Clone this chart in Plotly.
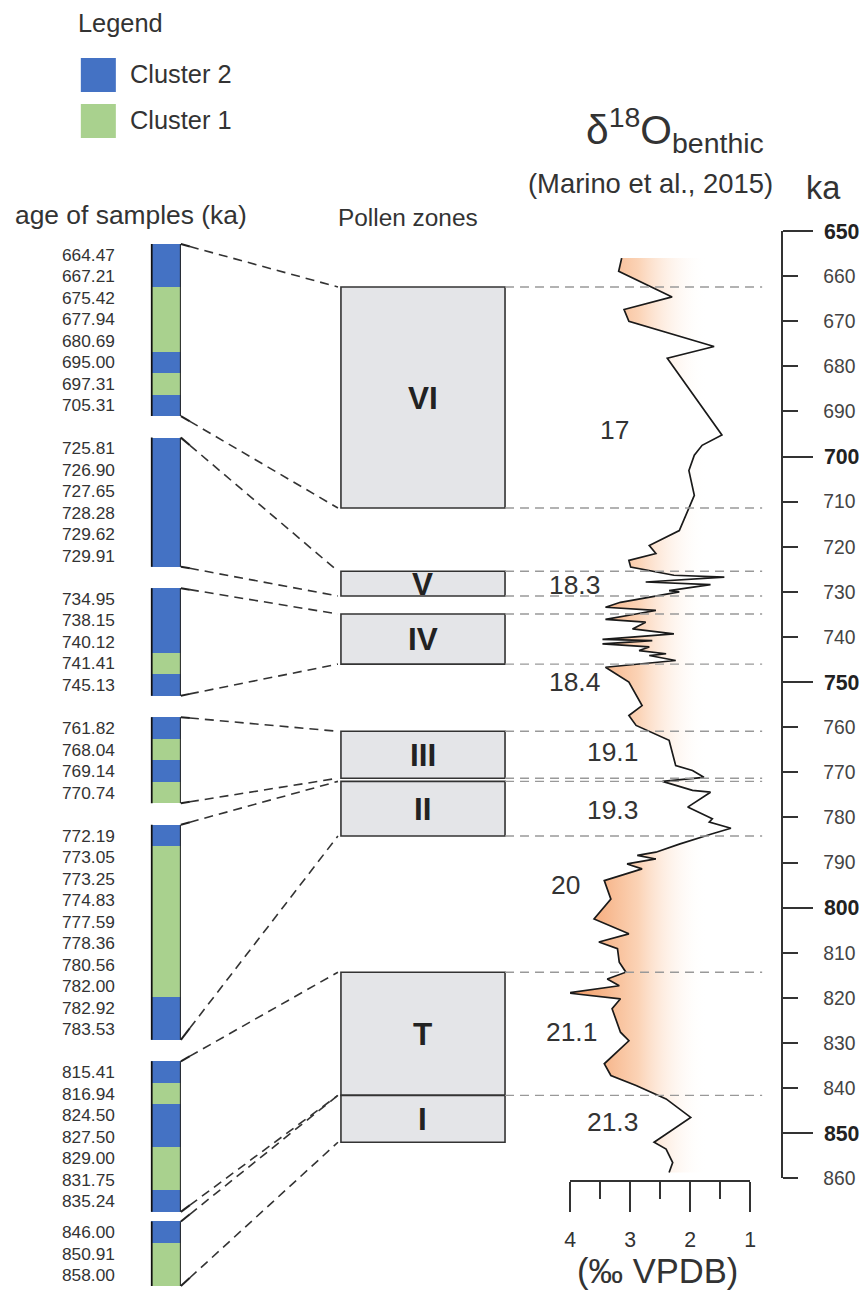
import plotly.graph_objects as go

# ---------------- data ----------------
cluster_names = ["Cluster 2", "Cluster 1"]
cluster_ids = [2, 1]

sample_groups = [
    ["664.47", "667.21", "675.42", "677.94", "680.69", "695.00", "697.31", "705.31"],
    ["725.81", "726.90", "727.65", "728.28", "729.62", "729.91"],
    ["734.95", "738.15", "740.12", "741.41", "745.13"],
    ["761.82", "768.04", "769.14", "770.74"],
    ["772.19", "773.05", "773.25", "774.83", "777.59", "778.36", "780.56", "782.00", "782.92", "783.53"],
    ["815.41", "816.94", "824.50", "827.50", "829.00", "831.75", "835.24"],
    ["846.00", "850.91", "858.00"],
]
sample_clusters = [
    [2, 2, 1, 1, 1, 2, 1, 2],
    [2, 2, 2, 2, 2, 2],
    [2, 2, 2, 1, 2],
    [2, 1, 2, 1],
    [2, 1, 1, 1, 1, 1, 1, 1, 2, 2],
    [2, 1, 2, 2, 1, 1, 2],
    [2, 1, 1],
]

zone_names = ["VI", "V", "IV", "III", "II", "T", "I"]
zone_top = [662.4, 725.4, 734.9, 760.9, 772.0, 814.3, 841.6]
zone_bottom = [711.4, 730.9, 746.0, 771.3, 784.1, 841.6, 852.0]

mis_labels = ["17", "18.3", "18.4", "19.1", "19.3", "20", "21.1", "21.3"]
mis_age = [694.0, 728.5, 750.0, 765.5, 778.4, 795.0, 827.6, 847.6]

age_ka = [656.0, 658.9, 664.6, 667.4, 670.0, 675.6, 678.2, 695.2, 697.5, 699.7,
          703.1, 708.6, 716.4, 719.7, 721.5, 723.0, 724.5, 726.3, 726.7, 727.8,
          728.4, 729.7, 730.0, 732.3, 733.4, 734.1, 734.9, 736.1, 736.7, 738.2,
          739.3, 740.5, 740.8, 741.5, 742.2, 743.0, 743.7, 744.1, 745.2, 746.7,
          750.0, 755.2, 757.4, 759.6, 762.9, 768.5, 769.6, 771.1, 772.0, 774.0,
          774.4, 777.7, 780.3, 781.0, 782.4, 783.6, 785.9, 787.7, 788.4, 789.2,
          790.3, 791.4, 794.0, 798.1, 802.5, 805.8, 807.6, 809.1, 812.1, 814.3,
          815.8, 817.3, 818.9, 820.2, 822.4, 827.6, 829.5, 834.6, 837.2, 839.4,
          842.4, 846.5, 852.0, 853.5, 856.5, 858.7]
d18o = [3.14, 3.19, 2.30, 3.10, 3.02, 1.60, 2.38, 1.47, 1.80, 1.93,
        2.02, 1.93, 2.18, 2.68, 2.57, 3.02, 2.99, 2.27, 1.43, 2.74,
        1.66, 2.35, 2.18, 3.16, 3.41, 2.57, 2.90, 3.41, 2.74, 2.96,
        2.27, 3.46, 2.63, 3.46, 2.68, 2.85, 2.40, 2.68, 2.24, 3.41,
        3.02, 2.80, 3.02, 2.90, 2.35, 2.24, 1.96, 1.77, 2.46, 1.96,
        1.66, 2.04, 1.63, 1.68, 1.32, 1.63, 2.18, 2.57, 2.88, 2.57,
        3.05, 2.80, 3.43, 3.32, 3.60, 3.02, 3.52, 3.21, 3.18, 3.07,
        3.38, 3.18, 4.05, 3.16, 3.30, 3.16, 3.02, 3.43, 3.32, 2.90,
        2.40, 1.99, 2.60, 2.40, 2.29, 2.35]

d18o_ticks = [4, 3, 2, 1]
d18o_minor = [3.5, 2.5, 1.5]
ka_ticks = list(range(650, 861, 10))

# ---------------- layout constants ----------------
W, H = 866, 1298
# photographed page is framed slightly smaller: compensate (ref px -> page px)
SX, AX = 0.9857, 7.2
SY, AY = 0.982, 10.0
FS = 1 / 0.984
FONT = "Liberation Sans, Arial, sans-serif"
COL = {2: "#4472c4", 1: "#a9d18e"}
TXT = "#333333"

KA_TOP_PX, KA_BOT_PX = 229, 1176
KA_MIN, KA_MAX = 650, 860
CELL = 21.7
SAMPLE_TOP_PX = 242
GROUP_GAPS = [1.0, 1.0, 1.0, 1.0, 1.0, 0.45]
BAR_L, BAR_R = 152, 182
BOX_L, BOX_R = 342, 506
DASH_END = 763
AX_X = 783
XAX_L, XAX_R, XAX_Y = 571, 751, 1179
FILL_EDGE = 1.75
MIS_X_PX = [615, 575, 575, 613, 613, 566, 572, 613]
PAGE_BOTTOM_LIMIT = 1297


def pg_x(r):
    return (r - AX) / SX


def pg_y(r):
    return (r - AY) / SY


def px_x(r):
    return pg_x(r) / W


def px_y(r):
    return 1 - pg_y(r) / H


def fs(v):
    return round(v * FS, 1)


def ka_ref(k):
    return KA_TOP_PX + (k - KA_MIN) / (KA_MAX - KA_MIN) * (KA_BOT_PX - KA_TOP_PX)


# sample slots
group_start, group_end = [], []
pos = 0.0
centers, labels, colors = [], [], []
for gi, (grp, cl) in enumerate(zip(sample_groups, sample_clusters)):
    if gi > 0:
        pos += GROUP_GAPS[gi - 1]
    group_start.append(pos)
    for lab, c in zip(grp, cl):
        centers.append(pos + 0.5)
        labels.append(lab)
        colors.append(COL[c])
        pos += 1
    group_end.append(pos)
TOTAL = pos
S_TOP_PG = pg_y(SAMPLE_TOP_PX)
S_BOT_PG = min(pg_y(SAMPLE_TOP_PX + TOTAL * CELL), PAGE_BOTTOM_LIMIT)


def slot_paper_y(s):
    return 1 - (S_TOP_PG + s / TOTAL * (S_BOT_PG - S_TOP_PG)) / H


fig = go.Figure()

# gradient fill behind the curve
fig.add_trace(go.Scatter(
    x=d18o + [FILL_EDGE, FILL_EDGE], y=age_ka + [age_ka[-1], age_ka[0]],
    mode="lines", fill="toself", line=dict(width=0),
    fillgradient=dict(type="horizontal", start=FILL_EDGE, stop=4.0,
                      colorscale=[[0, "rgba(255,255,255,0)"], [0.5, "#fbd3b6"], [1, "#f39a62"]]),
    hoverinfo="skip", showlegend=False, xaxis="x", yaxis="y"))
fig.add_trace(go.Scatter(
    x=d18o, y=age_ka, mode="lines", line=dict(color="#1a1a1a", width=1.7),
    showlegend=False, xaxis="x", yaxis="y"))
# invisible trace for major tick overlay axis
fig.add_trace(go.Scatter(x=[2.5], y=[700], mode="markers", marker=dict(opacity=0),
                         showlegend=False, hoverinfo="skip", xaxis="x", yaxis="y3"))

# sample cells
fig.add_trace(go.Bar(
    x=[1] * len(centers), y=centers, base=0, width=1.0, orientation="h",
    marker=dict(color=colors, line=dict(width=0)),
    showlegend=False, hoverinfo="skip", xaxis="x2", yaxis="y2"))

shapes = []
annotations = []

# group brackets
for gs, ge in zip(group_start, group_end):
    shapes.append(dict(type="line", xref="x2", yref="y2", x0=0, x1=0, y0=gs, y1=ge,
                       line=dict(color="#111111", width=3.5)))
    shapes.append(dict(type="line", xref="x2", yref="y2", x0=1, x1=1, y0=gs, y1=ge,
                       line=dict(color="#222222", width=2)))

# connectors (sample group edge -> pollen zone edge)
for gi in range(len(sample_groups)):
    for s, k in ((group_start[gi], zone_top[gi]), (group_end[gi], zone_bottom[gi])):
        ya = slot_paper_y(s)
        yb = px_y(ka_ref(k))
        xa, xb = px_x(BAR_R), px_x(BOX_L - 3)
        xh = px_x(BAR_R + 9)
        yh = ya + (yb - ya) * (xh - xa) / (xb - xa)
        shapes.append(dict(type="line", xref="paper", yref="paper",
                           x0=xa, y0=ya, x1=xh, y1=yh,
                           line=dict(color="#222222", width=2)))
        shapes.append(dict(type="line", xref="paper", yref="paper",
                           x0=xh, y0=yh, x1=xb, y1=yb,
                           line=dict(color="#333333", width=1.6, dash="9px,6px")))

# zone boxes
for name, t, b in zip(zone_names, zone_top, zone_bottom):
    shapes.append(dict(type="rect", xref="paper", yref="y", x0=px_x(BOX_L), x1=px_x(BOX_R),
                       y0=t, y1=b, fillcolor="#e4e5e8", line=dict(color="#333333", width=1.6)))
    annotations.append(dict(text=f"<b>{name}</b>", xref="paper", yref="y",
                            x=px_x((BOX_L + BOX_R) / 2), y=(t + b) / 2, showarrow=False,
                            xanchor="center", yanchor="middle",
                            font=dict(family=FONT, size=fs(31), color="#222222")))

# dashed boundaries
bounds = sorted(set(zone_top) | set(zone_bottom[:-1]))
for k in bounds:
    shapes.append(dict(type="line", xref="paper", yref="y", x0=px_x(BOX_R), x1=px_x(DASH_END),
                       y0=k, y1=k, line=dict(color="#999999", width=1.4, dash="9px,6px")))

# MIS labels
for lab, k, xp in zip(mis_labels, mis_age, MIS_X_PX):
    annotations.append(dict(text=lab, xref="paper", yref="y", x=px_x(xp), y=k, showarrow=False,
                            xanchor="center", yanchor="middle",
                            font=dict(family=FONT, size=fs(26), color=TXT)))

# legend
for i, (nm, cid) in enumerate(zip(cluster_names, cluster_ids)):
    top = 56 + i * 46
    shapes.append(dict(type="rect", xref="paper", yref="paper", x0=px_x(82), x1=px_x(117),
                       y0=px_y(top), y1=px_y(top + 34), fillcolor=COL[cid], line=dict(width=0)))
    annotations.append(dict(text=nm, xref="paper", yref="paper", x=px_x(129), y=px_y(top + 16),
                            showarrow=False, xanchor="left", yanchor="middle",
                            font=dict(family=FONT, size=fs(25), color=TXT)))


def txt(text, x, y, size, xanchor="center", color=TXT):
    annotations.append(dict(text=text, xref="paper", yref="paper", x=px_x(x), y=px_y(y),
                            showarrow=False, xanchor=xanchor, yanchor="middle",
                            font=dict(family=FONT, size=fs(size), color=color)))


txt("Legend", 122, 21, 25)
txt("age of samples (ka)", 132, 213, 26)
txt("Pollen zones", 409, 215, 24)
txt("δ<sup>18</sup>O<sub>benthic</sub>", 676, 128, 40)
txt("(Marino et al., 2015)", 651, 181, 27)
txt("ka", 824, 186, 32)
txt("(‰ VPDB)", 658, 1269, 34)

major_ticks = [v for v in ka_ticks if v % 50 == 0]
minor_ticks = [v for v in ka_ticks if v % 50 != 0]

fig.update_layout(
    width=W, height=H, margin=dict(l=0, r=0, t=0, b=0),
    paper_bgcolor="white", plot_bgcolor="rgba(0,0,0,0)",
    showlegend=False, bargap=0,
    font=dict(family=FONT, color=TXT),
    xaxis=dict(domain=[px_x(XAX_L), px_x(XAX_R)], range=[4, 1], anchor="free",
               position=px_y(XAX_Y), showline=True, linecolor="#333333", linewidth=2,
               ticks="outside", ticklen=fs(29), tickwidth=2, tickcolor="#333333",
               tickvals=d18o_ticks, ticktext=[str(v) for v in d18o_ticks],
               tickfont=dict(family=FONT, size=fs(21), color=TXT),
               minor=dict(tickvals=d18o_minor, ticks="outside", ticklen=fs(16), tickwidth=2,
                          tickcolor="#333333"),
               ticklabelstandoff=10, showgrid=False, zeroline=False, fixedrange=True),
    yaxis=dict(domain=[px_y(KA_BOT_PX), px_y(KA_TOP_PX)], range=[KA_MAX, KA_MIN],
               anchor="free", position=px_x(AX_X), side="right",
               showline=True, linecolor="#333333", linewidth=2,
               ticks="outside", ticklen=fs(15), tickwidth=2, tickcolor="#333333",
               tickvals=minor_ticks, ticktext=[str(v) for v in minor_ticks],
               tickfont=dict(family=FONT, size=fs(19), color="#444444"),
               ticklabelstandoff=21, showgrid=False, zeroline=False, fixedrange=True),
    yaxis3=dict(overlaying="y", range=[KA_MAX, KA_MIN], anchor="free", position=px_x(AX_X),
                side="right", showline=False, ticks="outside", ticklen=fs(29), tickwidth=2,
                tickcolor="#333333", tickvals=major_ticks,
                ticktext=[f"<b>{v}</b>" for v in major_ticks],
                tickfont=dict(family=FONT, size=fs(21), color="#222222"),
                ticklabelstandoff=7, showgrid=False, zeroline=False, fixedrange=True),
    xaxis2=dict(domain=[px_x(BAR_L), px_x(BAR_R)], range=[0, 1], visible=False,
                anchor="y2", fixedrange=True),
    yaxis2=dict(domain=[max(0.0, 1 - S_BOT_PG / H), 1 - S_TOP_PG / H], range=[TOTAL, 0],
                anchor="free", position=px_x(BAR_L), side="left",
                tickvals=centers, ticktext=labels, ticks="", showline=False,
                tickfont=dict(family=FONT, size=fs(17), color=TXT),
                ticklabelstandoff=36, showgrid=False, zeroline=False, fixedrange=True),
    shapes=shapes, annotations=annotations,
)

fig.write_html("out.html", config={"displayModeBar": False},
               post_script="document.body.style.margin='0';document.body.style.padding='0';")
